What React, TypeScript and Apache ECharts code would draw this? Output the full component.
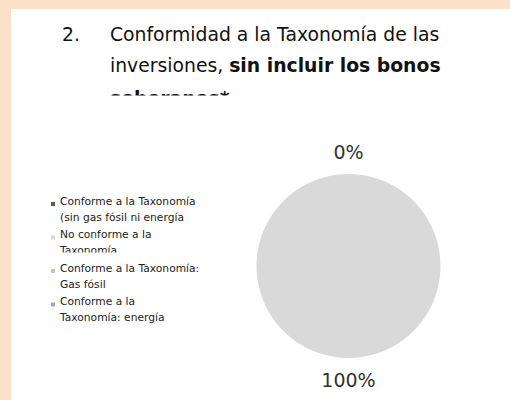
import React, { useEffect, useRef } from "react";
import * as echarts from "echarts";

// ---- data ----
const categories = [
  "Conforme a la Taxonomía\n(sin gas fósil ni energía",
  "No conforme a la\nTaxonomía",
  "Conforme a la Taxonomía:\nGas fósil",
  "Conforme a la\nTaxonomía: energía",
];
const values = [0, 100, 0, 0];
const sliceColors = ["#5a5a5a", "#d9d9d9", "#c4c4c4", "#a8a8a8"];
const showLabel = [true, true, false, false];

const titleNumber = "2.";
const titleLine1 = "Conformidad a la Taxonomía de las";
const titleLine2Plain = "inversiones, ";
const titleLine2Bold = "sin incluir los bonos";
const titleLine3Bold = "soberanos*";

const PEACH = "#fde0c8";
const FONT = "'DejaVu Sans', Verdana, Tahoma, sans-serif";

export default function App() {
  const ref = useRef<HTMLDivElement>(null);
  useEffect(() => {
    if (!ref.current) return;
    const chart = echarts.init(ref.current, undefined, { renderer: "svg" });
    const option: any = {
      animation: false,
      backgroundColor: PEACH,
      graphic: [
        { type: "rect", z: 0, shape: { x: 11, y: 9, width: 499, height: 391 }, style: { fill: "#ffffff" } },
        {
          type: "text", z: 2, x: 62, y: 18.5,
          style: { text: titleNumber, fill: "#111111", fontFamily: FONT, fontSize: 18.8, lineHeight: 31, verticalAlign: "top" },
        },
        {
          type: "text", z: 2, x: 110, y: 18.5,
          style: {
            text: `${titleLine1}\n{n|${titleLine2Plain}}{b|${titleLine2Bold}}\n{b3|${titleLine3Bold}}`,
            fill: "#111111", fontFamily: FONT, fontSize: 18.8, lineHeight: 31, verticalAlign: "top",
            rich: {
              n: { fontFamily: FONT, fontSize: 18.8, lineHeight: 31, fill: "#111111" },
              b: { fontFamily: FONT, fontSize: 18.8, lineHeight: 31, fontWeight: "bold", fill: "#111111" },
              b3: { fontFamily: FONT, fontSize: 18.8, lineHeight: 35, fontWeight: "bold", fill: "#111111" },
            },
          },
        },
        // page edge clipping the third title line
        { type: "rect", z: 5, shape: { x: 100, y: 95.5, width: 250, height: 26 }, style: { fill: "#ffffff" } },
        // truncated second line of the 2nd legend entry
        { type: "rect", z: 5, shape: { x: 57, y: 252.5, width: 80, height: 8 }, style: { fill: "#ffffff" } },
      ],
      legend: {
        orient: "vertical",
        left: 51,
        top: 193,
        padding: 0,
        itemWidth: 4,
        itemHeight: 16,
        itemGap: 1.5,
        icon: "path://M0,0M0,1L4,1L4,5L0,5ZM4,16",
        selectedMode: false,
        data: categories,
        textStyle: {
          fontFamily: FONT,
          fontSize: 10.7,
          lineHeight: 16,
          color: "#222222",
        },
      },
      series: [
        {
          type: "pie",
          center: [348.5, 266],
          radius: 92,
          startAngle: 90,
          clockwise: true,
          avoidLabelOverlap: false,
          itemStyle: { borderWidth: 0 },
          emphasis: { disabled: true },
          label: {
            show: true,
            position: "outside",
            formatter: "{d}%",
            fontFamily: FONT,
            fontSize: 19,
            color: "#333333",
          },
          labelLine: { show: false, length: 22, length2: 0 },
          labelLayout: (p: any) => ({ x: p.rect.x + p.rect.width / 2, align: "center" }),
          data: categories.map((name, i) => ({
            name,
            value: values[i],
            itemStyle: { color: sliceColors[i] },
            label: { show: showLabel[i] },
          })),
        },
      ],
    };
    chart.setOption(option);
    return () => chart.dispose();
  }, []);
  return <div ref={ref} style={{ position: "fixed", left: 0, top: 0, width: 510, height: 400 }} />;
}
